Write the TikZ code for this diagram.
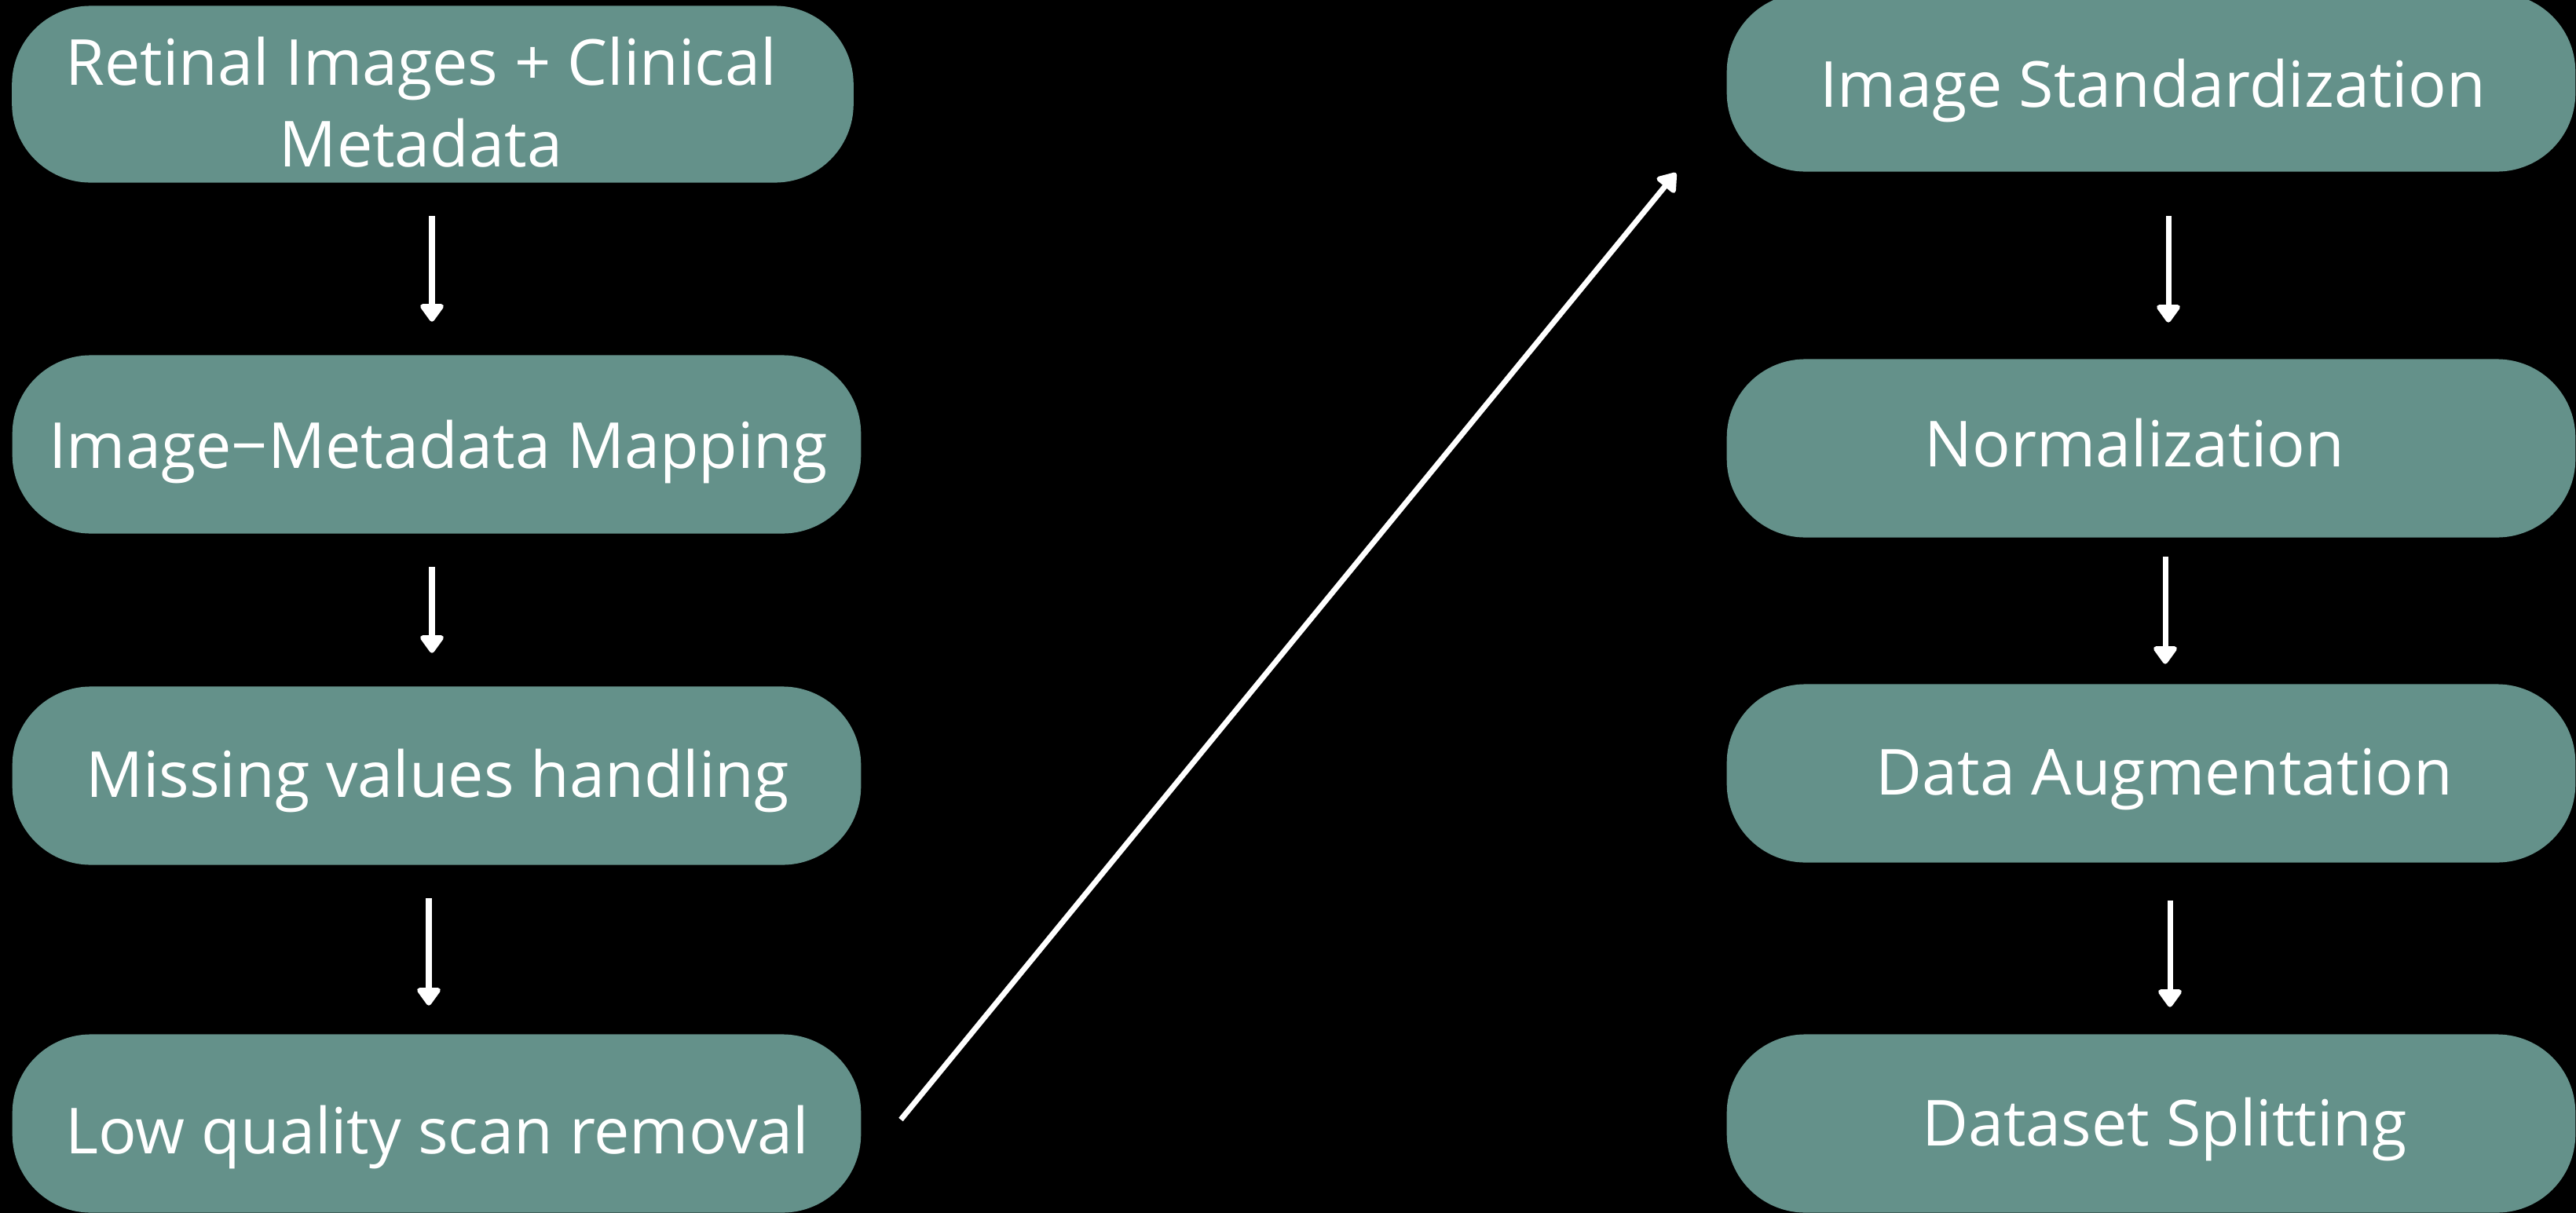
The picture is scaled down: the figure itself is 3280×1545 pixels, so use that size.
\documentclass[tikz,border=0pt]{standalone}
\usepackage{fontspec}
\setmainfont{Open Sans}
\usetikzlibrary{arrows.meta,calc}
\definecolor{boxteal}{HTML}{64918A}
\tikzset{
  stagebox/.style={rectangle, fill=boxteal, rounded corners=1cm, minimum width=10.8cm, minimum height=2.27cm, inner sep=0pt},
  stagetext/.style={text=white, inner sep=0pt, font=\fontsize{23}{29.5}\selectfont, align=center, anchor=base},
  flow/.style={draw=white, line width=2pt, -{Triangle[round,length=0.25cm,width=0.34cm]}}
}
\begin{document}
\begin{tikzpicture}[x=0.01cm,y=-0.01cm]
\fill[black] (0,0) rectangle (3280,1545);
\useasboundingbox (0,0) rectangle (3280,1545);
\clip (0,0) rectangle (3280,1545);
% left column
\node[stagebox, minimum width=10.71cm, minimum height=2.25cm] (b1) at (551,120) {};
\node[stagebox] (b2) at (556,566) {};
\node[stagebox] (b3) at (556,988) {};
\node[stagebox] (b4) at (556,1431) {};
% right column
\node[stagebox] (b5) at (2739,105) {};
\node[stagebox] (b6) at (2739,571) {};
\node[stagebox] (b7) at (2739,985) {};
\node[stagebox] (b8) at (2739,1431) {};
% texts
\node[stagetext] (t1) at (536,212) {Retinal Images + Clinical\\Metadata};
\node[stagetext] (t2) at (558,596) {Image−Metadata Mapping};
\node[stagetext] (t3) at (557,1015) {Missing values handling};
\node[stagetext] (t4) at (557,1469) {Low quality scan removal};
\node[stagetext] (t5) at (2741,136) {Image Standardization};
\node[stagetext] (t6) at (2718,594) {Normalization};
\node[stagetext] (t7) at (2756,1012) {Data Augmentation};
\node[stagetext] (t8) at (2756,1459) {Dataset Splitting};
% arrows
\draw[flow] ($(b1.south)+(-1,42)$) -- ($(b2.north)+(-6,-42)$);
\draw[flow] ($(b2.south)+(-6,42)$) -- ($(b3.north)+(-6,-42)$);
\draw[flow] ($(b3.south)+(-10,42)$) -- ($(b4.north)+(-10,-36)$);
\draw[flow] ($(b5.south)+(22,56)$) -- ($(b6.north)+(22,-46)$);
\draw[flow] ($(b6.south)+(18,24)$) -- ($(b7.north)+(18,-25)$);
\draw[flow] ($(b7.south)+(24,48)$) -- ($(b8.north)+(24,-34)$);
\draw[flow] ($(b4.east)+(50,-5)$) -- ($(b5.south west)+(-64,1)$);
\end{tikzpicture}
\end{document}
